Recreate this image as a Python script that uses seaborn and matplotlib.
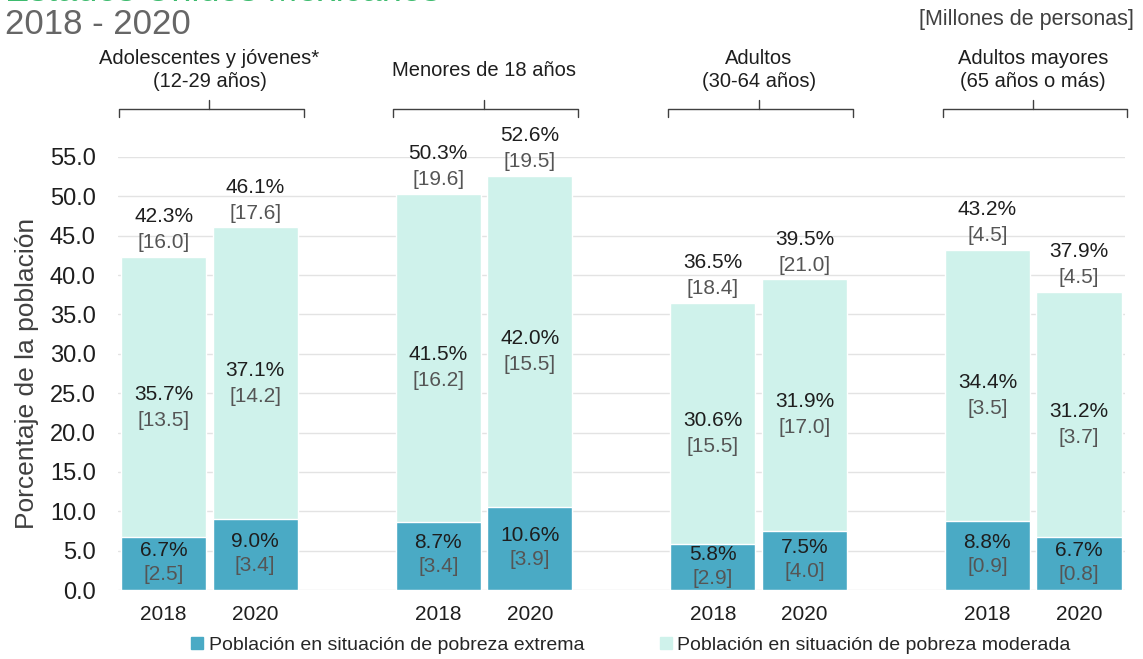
import matplotlib
matplotlib.use("Agg")
import matplotlib.pyplot as plt
import pandas as pd
import seaborn as sns

sns.set_style("white")
plt.rcParams["font.family"] = ["Liberation Sans", "DejaVu Sans"]

groups = ["Adolescentes y jóvenes*\n(12-29 años)", "Menores de 18 años",
          "Adultos\n(30-64 años)", "Adultos mayores\n(65 años o más)"]
years = ["2018", "2020"]
total_pct = [42.3, 46.1, 50.3, 52.6, 36.5, 39.5, 43.2, 37.9]
total_mill = [16.0, 17.6, 19.6, 19.5, 18.4, 21.0, 4.5, 4.5]
moderate_pct = [35.7, 37.1, 41.5, 42.0, 30.6, 31.9, 34.4, 31.2]
moderate_mill = [13.5, 14.2, 16.2, 15.5, 15.5, 17.0, 3.5, 3.7]
extreme_pct = [6.7, 9.0, 8.7, 10.6, 5.8, 7.5, 8.8, 6.7]
extreme_mill = [2.5, 3.4, 3.4, 3.9, 2.9, 4.0, 0.9, 0.8]

C_EXT = "#4aaac5"
C_MOD = "#cff2eb"
DARK = "#1e1e1e"
GREY = "#555555"
FS = 15

keys = [f"{g}|{y}" for g in range(len(groups)) for y in years]
df = pd.DataFrame({"key": keys, "total": total_pct, "extreme": extreme_pct})
order = []
for g in range(len(groups)):
    order += [f"{g}|2018", f"{g}|2020"]
    if g < len(groups) - 1:
        order.append(" " * (g + 1))

fig = plt.figure(figsize=(11.43, 6.59), dpi=100)
ax = fig.add_axes([0.1032, 0.1047, 0.8808, 0.6571])

sns.barplot(data=df, x="key", y="total", order=order, color=C_MOD,
            width=0.93, saturation=1, ax=ax, zorder=2)
sns.barplot(data=df, x="key", y="extreme", order=order, color=C_EXT,
            width=0.93, saturation=1, ax=ax, zorder=3)

ax.set_ylim(0, 55)
ax.set_xlim(-0.5, len(order) - 0.5)
ax.set_yticks(range(0, 56, 5))
ax.set_yticklabels([f"{v:.1f}" for v in range(0, 56, 5)], fontsize=17, color=DARK)
ax.yaxis.grid(True, color="#e3e3e3", linewidth=1, zorder=0)
ax.set_axisbelow(True)
for s in ax.spines.values():
    s.set_visible(False)
ax.tick_params(axis="both", length=0)
ax.tick_params(axis="y", pad=16)
ax.set_xticks([order.index(k) for k in keys])
ax.set_xticklabels(years * len(groups), fontsize=15, color=DARK)
ax.tick_params(axis="x", pad=11)
ax.set_xlabel("")
ax.set_ylabel("Porcentaje de la población", fontsize=19, color="#404040", labelpad=8)

for i, k in enumerate(keys):
    x = order.index(k)
    tot, ext = total_pct[i], extreme_pct[i]
    ax.annotate(f"{tot:.1f}%", (x, tot), xytext=(0, 40), textcoords="offset pixels",
                ha="center", va="center", fontsize=FS, color=DARK, annotation_clip=False)
    ax.annotate(f"[{total_mill[i]:.1f}]", (x, tot), xytext=(0, 14), textcoords="offset pixels",
                ha="center", va="center", fontsize=FS, color=GREY, annotation_clip=False)
    mid = (ext + tot) / 2
    ax.annotate(f"{moderate_pct[i]:.1f}%", (x, mid), xytext=(0, 3), textcoords="offset pixels",
                ha="center", va="center", fontsize=FS, color=DARK)
    ax.annotate(f"[{moderate_mill[i]:.1f}]", (x, mid), xytext=(0, -23), textcoords="offset pixels",
                ha="center", va="center", fontsize=FS, color=GREY)
    ax.annotate(f"{ext:.1f}%", (x, ext / 2), xytext=(0, 13), textcoords="offset pixels",
                ha="center", va="center", fontsize=FS, color=DARK)
    ax.annotate(f"[{extreme_mill[i]:.1f}]", (x, ext / 2), xytext=(0, -11), textcoords="offset pixels",
                ha="center", va="center", fontsize=FS, color=GREY)

# group braces and headings
for g, name in enumerate(groups):
    x0 = order.index(f"{g}|2018") - 0.49
    x1 = order.index(f"{g}|2020") + 0.53
    xc = (order.index(f"{g}|2018") + order.index(f"{g}|2020")) / 2
    yb, yt, yn = 61.1, 60.1, 62.2
    ax.plot([x0, x0, x1, x1], [yt, yb, yb, yt], color="#404040", lw=1, clip_on=False)
    ax.plot([xc, xc], [yb, yn], color="#404040", lw=1, clip_on=False)
    ax.text(xc, 66.0, name, ha="center", va="center", fontsize=14.5, color=DARK,
            linespacing=1.25)

fig.text(0.004, 1 - 1 / 659, "Estados Unidos Mexicanos", fontsize=26, color="#3dbb6e",
         ha="left", va="baseline")
fig.text(0.004, 1 - 25 / 659, "2018 - 2020", fontsize=25, color="#666666",
         ha="left", va="center")
fig.text(0.992, 1 - 20 / 659, "[Millones de personas]", fontsize=15.5, color="#404040",
         ha="right", va="center")

handles = [plt.Rectangle((0, 0), 1, 1, color=C_EXT), plt.Rectangle((0, 0), 1, 1, color=C_MOD)]
fig.legend(handles, ["Población en situación de pobreza extrema",
                     "Población en situación de pobreza moderada"],
           loc="lower center", bbox_to_anchor=(0.552, -0.019), ncol=2, frameon=False,
           fontsize=14, handlelength=0.6, handleheight=0.6, handletextpad=0.3,
           columnspacing=3.9)

fig.savefig("out.png", dpi=100)
